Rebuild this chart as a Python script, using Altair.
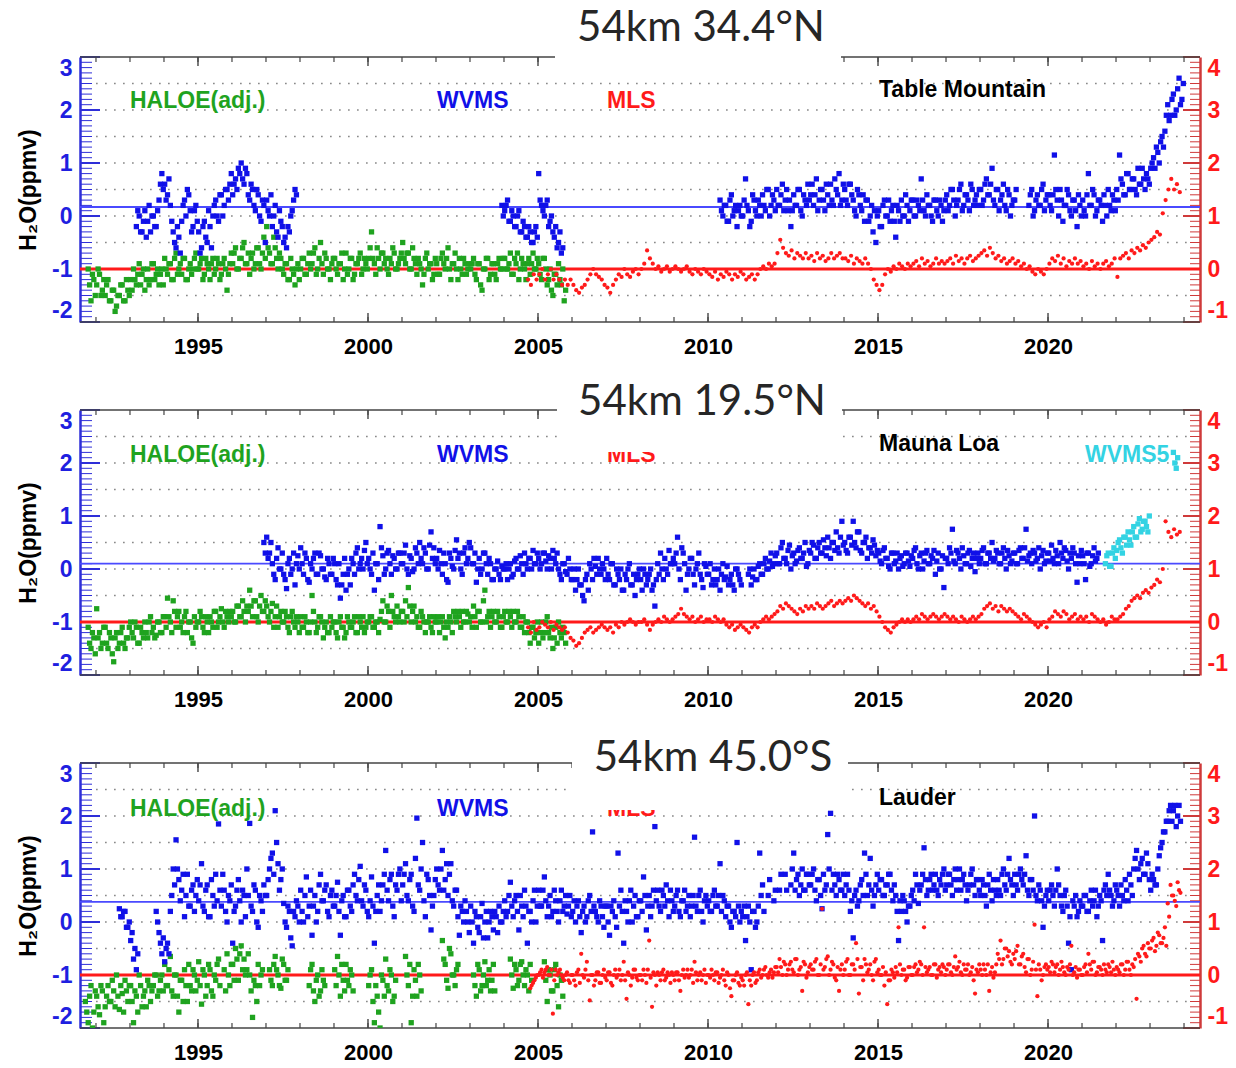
import altair as alt
import pandas as pd


def ym(year, month):
    return year + (month - 1) / 12


# ---------------------------------------------------------------------------
# Anomaly series (ppmv), two readings per month where the record is dense.
# HALOE / WVMS use the left scale, MLS the right scale (MLS 0 = left -1).
# None = no data that month.
# ---------------------------------------------------------------------------

# ---- Table Mountain, 34.4N ----
HALOE_TM_START = ym(1991, 10)
HALOE_TM = [
    -1.0, -1.6, -1.2,
    -1.3, -1.1, -1.4, -1.5, -1.2, -1.6, -1.4, -1.7, -1.5, -1.3, -1.6, -1.4,
    -1.2, -1.0, -1.3, -0.9, -1.1, -1.4, -1.0, -1.2, -0.9, -1.1, -1.3, -1.0,
    -0.8, -1.1, -0.9, -1.2, -0.7, -1.0, -1.1, -0.8, -1.2, -0.9, -1.0, -0.7,
    -1.0, -0.8, -1.1, -0.9, -1.2, -0.8, -1.0, -0.9, -1.1, -0.8, -1.4, -0.9,
    -0.9, -0.6, -1.0, -0.8, -0.5, -0.9, -1.1, -0.7, -0.9, -0.6, -1.0, -0.4,
    -0.2, -0.7, -0.9, -0.6, -1.0, -0.8, -1.1, -0.9, -1.2, -1.0, -1.3, -0.9,
    -1.0, -0.8, -1.1, -0.7, -0.9, -0.6, -1.0, -0.5, -1.1, -0.8, -1.0, -0.9,
    -0.8, -1.1, -0.9, -1.2, -0.7, -1.0, -0.8, -1.1, -0.9, -0.7, -1.0, -0.9,
    -0.8, -0.3, -0.9, -0.6, -1.0, -0.7, -0.8, -1.1, -0.9, -0.7, -1.0, -0.8,
    -0.5, -0.9, -0.7, -1.0, -0.8, -1.1, -0.9, -1.3, -0.8, -1.0, -0.9, -1.1,
    -0.9, -1.1, -0.7, -1.0, -0.6, -1.2, -0.9, -1.0, -0.8, -1.1, -0.9, -1.0,
    -1.0, -0.8, -1.2, -0.9, -1.4, -1.0, -0.8, -1.1, -0.9, -1.2, -0.8, -1.0,
    -0.8, -1.0, -0.7, -1.1, -0.9, -1.2, -0.8, -1.0, -0.9, -1.1, -0.7, -1.0,
    -0.9, -1.2, -0.8, -1.3, -1.0, -1.5, -1.1, -0.9, -1.3, -1.6,
]
HALOE_TM_2 = [
    -1.3, -1.1, -1.5,
    -1.0, -1.5, -1.2, -1.3, -1.6, -1.4, -1.8, -1.5, -1.3, -1.6, -1.2, -1.5,
    -1.4, -1.2, -1.1, -1.3, -1.0, -1.2, -1.3, -0.9, -1.2, -1.0, -1.1, -1.3,
    -1.0, -0.9, -1.2, -0.8, -1.1, -0.9, -0.8, -1.2, -1.0, -1.1, -0.8, -1.0,
    -0.9, -1.2, -0.8, -1.0, -0.9, -1.1, -0.8, -1.2, -0.9, -1.0, -1.1, -0.7,
    -0.7, -1.0, -0.8, -0.6, -0.9, -0.7, -0.8, -1.0, -0.6, -0.9, -0.7, -0.8,
    -0.6, -0.9, -0.4, -0.8, -0.7, -1.0, -0.9, -1.2, -0.8, -1.1, -1.0, -1.2,
    -0.8, -1.1, -0.9, -1.0, -0.7, -1.1, -0.8, -0.9, -0.7, -1.0, -1.2, -0.8,
    -1.0, -0.9, -0.7, -1.0, -1.1, -0.8, -1.2, -0.9, -0.8, -1.1, -0.8, -1.0,
    -0.6, -0.8, -1.1, -0.8, -0.7, -0.9, -1.0, -0.8, -0.6, -1.0, -0.9, -0.7,
    -0.8, -0.7, -1.0, -0.6, -0.9, -0.8, -1.0, -1.1, -0.7, -0.9, -1.2, -0.8,
    -1.1, -0.8, -0.9, -0.8, -1.0, -0.9, -0.7, -1.2, -1.0, -0.8, -1.1, -0.9,
    -0.9, -1.1, -0.9, -1.3, -1.0, -0.8, -1.2, -0.9, -1.1, -0.9, -1.0, -0.8,
    -1.0, -0.9, -1.1, -0.8, -0.7, -1.0, -0.9, -1.2, -0.8, -0.9, -1.0, -0.8,
    -1.1, -0.8, -1.0, -1.2, -1.4, -1.1, -1.3, -1.2, -1.0, -1.4,
]
WVMS_TM_A_START = ym(1993, 3)
WVMS_TM_A = [
    -0.2, 0.0, -0.3, 0.1, -0.1, -0.3, 0.0, -0.2, 0.3, 0.8,
    0.6, 0.4, 0.2, -0.3, -0.6, -0.4, -0.1, 0.3, 0.5, 0.1, -0.2, 0.2,
    -0.3, -0.6, -0.1, -0.5, -0.2, 0.0, 0.3, -0.1, 0.4, 0.2, 0.5, 0.6,
    0.4, 0.7, 0.9, 1.0, 0.6, 0.8, 0.3, 0.5, 0.1, 0.4, -0.1, 0.2,
    0.3, 0.0, -0.2, 0.2, -0.4, -0.1, -0.5, -0.6, -0.3, 0.1, 0.5,
]
WVMS_TM_A_2 = [
    0.1, -0.3, -0.1, -0.4, 0.2, 0.0, -0.2, 0.1, 0.6, 0.5,
    0.3, 0.7, -0.1, -0.5, -0.2, -0.7, 0.2, 0.0, 0.4, -0.3, 0.1, -0.1,
    -0.7, -0.2, -0.4, 0.1, -0.6, 0.2, 0.0, 0.4, 0.0, 0.5, 0.3, 0.8,
    0.6, 0.5, 0.8, 0.7, 0.9, 0.4, 0.6, 0.2, 0.5, 0.0, 0.3, -0.5,
    0.1, 0.4, 0.0, -0.3, 0.1, -0.2, -0.4, -0.2, 0.0, 0.3, 0.4,
]
WVMS_TM_B_START = ym(2003, 12)
WVMS_TM_B = [
    0.2,
    0.1, 0.3, -0.1, 0.0, -0.2, 0.1, -0.3, -0.2, -0.4, -0.3, -0.5, -0.2,
    0.8, 0.2, 0.0, 0.3, -0.1, -0.3, -0.2, -0.5, -0.7,
]
WVMS_TM_B_2 = [
    0.0,
    0.2, -0.1, 0.1, -0.2, 0.0, -0.3, -0.1, -0.4, -0.2, -0.5, -0.3, -0.4,
    0.3, 0.1, 0.2, -0.2, 0.0, -0.4, -0.6, -0.3, -0.6,
]
WVMS_TM_C_START = ym(2010, 5)
WVMS_TM_C = [
    0.3, 0.0, 0.2, -0.1, 0.4, 0.1, -0.2, 0.2,
    0.0, 0.7, 0.1, -0.1, 0.3, 0.0, 0.2, 0.4, 0.1, 0.5, 0.2, 0.3,
    0.5, 0.2, 0.6, 0.3, 0.1, -0.2, 0.4, 0.2, 0.5, 0.0, 0.3, 0.6,
    0.4, 0.2, 0.7, 0.3, 0.5, 0.1, 0.4, 0.6, 0.2, 0.5, 0.8, 0.3,
    0.5, 0.2, 0.6, 0.3, 0.0, 0.4, 0.1, -0.1, 0.3, 0.0, -0.3, -0.5,
    0.1, -0.2, 0.3, 0.0, -0.1, 0.2, -0.4, 0.1, 0.3, 0.0, 0.2, 0.1,
    0.3, 0.0, 0.2, 0.7, 0.1, 0.4, 0.2, -0.1, 0.3, 0.0, 0.2, 0.1,
    0.4, 0.2, 0.5, 0.0, 0.3, 0.6, 0.2, 0.4, 0.1, 0.5, 0.3, 0.2,
    0.5, 0.3, 0.7, 0.4, 0.9, 0.2, 0.5, 0.3, 0.6, 0.1, 0.4, 0.2,
    0.3, None, None, None, None, 0.2, 0.5, 0.1, 0.4, 0.2, 0.6, 0.3,
    0.4, 0.1, 1.15, 0.3, 0.5, -0.1, 0.2, 0.4, 0.0, 0.3, -0.2, 0.2,
    0.3, 0.0, 0.8, 0.2, 0.4, 0.1, 0.3, -0.1, 0.2, 0.5, 0.1, 0.3,
    0.5, 1.15, 0.6, 0.4, 0.8, 0.5, 0.7, 0.4, 0.6, 0.9, 0.5, 0.7,
    0.9, 1.1, 1.3, 1.0, 1.5, 1.6, 2.1, 1.9, 2.3, 2.0, 2.6, 2.2,
]
WVMS_TM_C_2 = [
    0.1, 0.2, -0.1, 0.3, 0.0, 0.2, 0.1, 0.0,
    0.3, 0.2, -0.2, 0.4, 0.1, 0.3, 0.0, 0.2, 0.5, 0.0, 0.4, 0.1,
    0.2, 0.4, 0.1, 0.5, 0.3, 0.1, 0.2, 0.5, 0.1, 0.4, 0.2, 0.3,
    0.6, 0.4, 0.1, 0.5, 0.3, 0.6, 0.2, 0.3, 0.7, 0.4, 0.2, 0.6,
    0.3, 0.6, 0.4, 0.1, 0.5, 0.2, 0.4, 0.3, -0.1, 0.2, 0.1, 0.0,
    -0.2, 0.2, 0.0, 0.3, 0.1, -0.1, 0.2, -0.1, 0.0, 0.4, -0.1, 0.3,
    0.0, 0.3, 0.1, 0.3, 0.0, 0.2, 0.0, 0.3, 0.1, 0.3, -0.1, 0.3,
    0.1, 0.5, 0.3, 0.2, 0.5, 0.1, 0.4, 0.3, 0.6, 0.2, 0.4, 0.5,
    0.2, 0.6, 0.4, 0.6, 0.3, 0.5, 0.1, 0.4, 0.2, 0.5, 0.0, 0.3,
    0.5, None, None, None, None, 0.4, 0.0, 0.3, 0.2, 0.5, 0.1, 0.4,
    0.2, 0.4, 0.5, 0.0, 0.3, 0.2, 0.5, 0.1, 0.3, 0.1, 0.4, 0.0,
    0.1, 0.4, 0.2, 0.5, 0.0, 0.3, 0.2, 0.4, 0.0, 0.2, 0.4, 0.1,
    0.3, 0.7, 0.4, 0.8, 0.5, 0.7, 0.5, 0.9, 0.6, 0.7, 0.8, 0.6,
    1.0, 0.9, 1.2, 1.4, 1.3, 1.9, 1.8, 2.2, 1.9, 2.4, 2.1, 2.5,
]
MLS_TM_START = ym(2004, 9)
MLS_TM = [
    -0.2, -0.3, -0.1, -0.2,
    -0.1, 0.0, -0.2, -0.1, 0.0, -0.2, -0.1, -0.2, -0.3, -0.2, -0.3, -0.2,
    -0.3, -0.4, -0.45, -0.35, -0.3, -0.2, -0.1, 0.0, -0.1, -0.15, -0.2, -0.3,
    -0.35, -0.45, -0.3, -0.2, -0.1, -0.15, 0.0, -0.1, -0.15, -0.05, 0.0, -0.1,
    0.0, 0.1, 0.35, 0.2, 0.1, 0.0, 0.05, -0.05, 0.0, 0.05, -0.05, 0.0,
    0.05, 0.0, -0.05, 0.0, 0.05, -0.05, -0.1, 0.0, -0.05, -0.1, 0.0, -0.05,
    -0.1, -0.15, -0.05, -0.2, -0.1, -0.15, -0.05, -0.1, -0.2, -0.1, -0.15, -0.05,
    -0.1, -0.2, -0.15, -0.1, -0.2, -0.1, 0.0, 0.05, 0.0, 0.1, 0.05, 0.1,
    0.3, 0.55, 0.4, 0.3, 0.25, 0.35, 0.2, 0.3, 0.25, 0.2, 0.3, 0.2,
    0.25, 0.15, 0.3, 0.2, 0.25, 0.15, 0.2, 0.3, 0.2, 0.25, 0.3, 0.2,
    0.2, 0.15, 0.25, 0.1, 0.2, 0.15, 0.1, 0.2, 0.1, 0.0, -0.2, -0.3,
    -0.4, -0.3, -0.1, 0.0, -0.05, 0.05, 0.0, 0.1, 0.05, 0.0, 0.1, 0.05,
    0.1, 0.15, 0.05, 0.2, 0.1, 0.15, 0.05, 0.1, 0.2, 0.1, 0.15, 0.1,
    0.15, 0.2, 0.1, 0.25, 0.15, 0.2, 0.1, 0.2, 0.25, 0.15, 0.2, 0.25,
    0.3, 0.35, 0.25, 0.4, 0.3, 0.2, 0.25, 0.15, 0.2, 0.1, 0.15, 0.2,
    0.1, 0.15, 0.05, 0.1, 0.0, 0.05, -0.05, -0.1, 0.0, -0.05, -0.1, 0.0,
    0.1, 0.2, 0.15, 0.25, 0.1, 0.2, 0.05, 0.15, 0.1, 0.2, 0.1, 0.15,
    0.05, 0.1, 0.0, 0.15, 0.05, 0.1, 0.0, 0.1, 0.15, 0.05, 0.1, 0.2,
    -0.15, 0.2, 0.25, 0.3, 0.2, 0.35, 0.3, 0.4, 0.35, 0.45, 0.4, 0.5,
    0.55, 0.6, 0.7, 0.65, 1.05, 1.3, 1.5, 1.7, 1.5, 1.6, 1.45,
]
WVMS_MEAN_TM = 0.17

# ---- Mauna Loa, 19.5N ----
HALOE_ML_START = ym(1991, 10)
HALOE_ML = [
    -1.1, -1.5, -1.3,
    -0.75, -1.2, -1.4, -1.1, -1.5, -1.3, -1.75, -1.2, -1.4, -1.1, -1.5, -1.3,
    -1.0, -1.3, -1.1, -1.4, -1.2, -1.0, -1.3, -0.9, -1.1, -1.25, -1.0, -1.2,
    -0.9, -0.55, -1.0, -0.6, -1.1, -0.8, -1.0, -0.9, -1.2, -1.0, -1.4, -1.1,
    -1.0, -0.9, -1.2, -1.0, -0.9, -1.1, -0.8, -1.0, -0.75, -1.1, -0.9, -0.8,
    -0.8, -1.0, -0.7, -0.9, -0.8, -0.7, -0.4, -0.9, -0.6, -1.0, -0.5, -0.8,
    -0.7, -1.0, -0.65, -0.9, -1.1, -0.8, -1.0, -0.9, -1.2, -0.8, -1.1, -1.0,
    -0.9, -1.1, -1.0, -1.2, -0.5, -1.0, -1.1, -0.9, -1.3, -1.0, -1.2, -1.1,
    -1.0, -1.3, -0.9, -1.1, -1.2, -1.0, -1.1, -0.9, -1.2, -1.0, -0.9, -1.1,
    -1.0, -0.9, -1.1, -1.0, -0.95, -0.6, -1.0, -0.8, -0.5, -0.9, -0.7, -1.0,
    -0.8, -0.6, -0.35, -1.0, -0.7, -0.9, -1.1, -0.9, -1.2, -1.0, -1.1, -0.9,
    -1.0, -1.2, -0.9, -1.3, -1.1, -1.0, -0.8, -1.0, -0.9, -0.8, -1.0, -0.85,
    -0.9, -0.7, -1.1, -0.8, -1.0, -0.4, -0.9, -1.1, -0.8, -1.0, -0.9, -1.1,
    -0.8, -1.0, -0.9, -0.8, -1.0, -0.9, -1.1, -1.2, -1.0, -1.4, -1.1, -1.2,
    -1.4, -1.0, -1.2, -0.9, -1.3, -1.5, -1.1, -1.0, -1.3, -1.2,
]
HALOE_ML_2 = [
    -1.4, -1.2, -1.6,
    -1.3, -1.5, -1.1, -1.4, -1.2, -1.6, -1.3, -1.5, -1.2, -1.4, -1.3, -1.1,
    -1.2, -1.0, -1.4, -1.1, -1.3, -1.2, -1.0, -1.2, -1.3, -1.0, -1.2, -0.9,
    -1.1, -0.9, -1.2, -0.8, -0.9, -1.1, -1.2, -0.8, -1.0, -1.3, -0.9, -1.0,
    -0.8, -1.1, -0.9, -1.2, -1.0, -0.8, -1.1, -0.9, -1.0, -0.8, -1.0, -0.9,
    -1.0, -0.7, -0.9, -0.6, -1.0, -0.8, -0.7, -0.6, -0.9, -0.7, -0.8, -0.6,
    -0.9, -0.8, -1.1, -0.7, -0.9, -1.0, -0.8, -1.1, -0.9, -1.0, -0.9, -1.2,
    -1.1, -0.9, -1.2, -1.0, -0.8, -1.2, -0.9, -1.0, -1.1, -1.2, -0.9, -1.0,
    -1.2, -1.0, -1.1, -1.3, -0.9, -1.1, -1.0, -1.2, -0.9, -1.1, -1.2, -1.0,
    -0.9, -1.1, -1.0, -1.2, -0.8, -1.0, -0.7, -1.1, -0.8, -1.0, -0.9, -0.8,
    -1.0, -0.9, -0.7, -0.8, -1.0, -1.1, -0.8, -1.0, -1.0, -0.9, -1.2, -1.0,
    -0.9, -1.0, -1.1, -1.0, -0.9, -1.2, -0.9, -0.8, -1.1, -1.0, -0.8, -1.0,
    -1.1, -0.9, -0.8, -1.0, -0.6, -1.0, -0.8, -0.9, -1.0, -0.8, -1.1, -0.9,
    -1.0, -0.8, -1.1, -1.0, -0.8, -1.1, -0.9, -1.0, -1.2, -1.1, -1.3, -1.0,
    -1.2, -1.3, -1.0, -1.2, -1.1, -1.3, -1.4, -1.2, -1.1, -1.4,
]
WVMS_ML_START = ym(1996, 12)
WVMS_ML = [
    0.5,
    0.6, 0.3, 0.1, -0.2, 0.4, 0.0, -0.1, -0.37, 0.2, 0.0, -0.3, 0.25,
    0.4, -0.1, 0.2, -0.25, 0.0, 0.3, -0.1, 0.25, 0.0, -0.2, 0.1, -0.1,
    0.1, -0.3, -0.55, -0.1, -0.4, 0.0, 0.2, -0.1, 0.4, 0.1, 0.0, 0.5,
    0.2, -0.1, -0.4, 0.1, 0.8, 0.25, 0.0, 0.35, -0.1, 0.2, 0.0, 0.3,
    0.1, 0.45, -0.1, 0.2, 0.0, 0.3, 0.5, 0.1, 0.3, 0.0, 0.7, 0.4,
    0.2, 0.35, -0.1, 0.1, -0.25, 0.2, 0.0, 0.55, 0.3, -0.1, 0.4, 0.2,
    0.4, 0.1, -0.25, 0.2, 0.0, 0.3, -0.1, 0.1, -0.2, 0.0, -0.1, 0.05,
    0.0, -0.2, 0.1, -0.1, 0.2, 0.0, 0.1, 0.3, 0.0, 0.2, 0.35, 0.1,
    0.2, 0.1, 0.3, 0.0, 0.2, 0.35, 0.1, 0.0, -0.2, 0.1, -0.1, 0.0,
    -0.2, -0.4, 0.0, -0.3, -0.6, -0.1, 0.1, -0.2, 0.05, 0.2, -0.1, 0.0,
    0.2, -0.2, 0.1, -0.3, -0.1, 0.0, -0.4, -0.2, 0.1, -0.3, -0.5, -0.1,
    -0.2, 0.0, -0.3, -0.1, -0.4, -0.7, 0.1, 0.3, -0.2, 0.0, 0.35, 0.1,
    0.1, 0.6, -0.2, 0.3, -0.4, 0.0, 0.2, -0.3, 0.1, -0.1, -0.35, 0.05,
    -0.1, -0.3, 0.0, -0.2, -0.4, 0.1, -0.15, -0.3, -0.1, -0.4, 0.0, -0.2,
    None, None, -0.1, -0.3, 0.0, -0.2, 0.1, -0.1, 0.2, 0.0, 0.3, 0.1,
    0.3, 0.1, 0.5, 0.2, 0.35, 0.0, 0.3, 0.15, 0.4, 0.2, 0.5, 0.1,
    0.3, 0.45, 0.2, 0.5, 0.3, 0.4, 0.6, 0.2, 0.5, 0.7, 0.3, 0.9,
    0.5, 0.3, 0.6, 0.9, 0.4, 0.7, 0.3, 0.5, 0.2, 0.4, 0.55, 0.25,
    0.3, 0.1, 0.4, 0.2, 0.0, 0.3, 0.15, 0.0, 0.25, 0.1, 0.3, 0.05,
    0.2, 0.4, 0.0, 0.3, 0.15, 0.35, 0.1, 0.2, -0.1, 0.3, 0.0, -0.35,
    0.2, 0.4, 0.75, 0.1, 0.3, 0.0, 0.25, 0.1, 0.35, 0.2, -0.05, 0.3,
    0.2, 0.4, 0.1, 0.3, 0.5, 0.2, 0.3, 0.1, 0.4, 0.0, 0.25, 0.15,
    0.3, 0.1, 0.4, 0.2, 0.75, 0.25, 0.1, 0.3, 0.2, 0.0, 0.35, 0.15,
    0.3, 0.45, 0.1, 0.25, 0.5, 0.2, 0.35, 0.0, 0.2, 0.3, -0.25, 0.1,
    0.25, -0.2, 0.3, 0.1, 0.4, 0.2,
]
WVMS_ML_2 = [
    0.3,
    0.2, 0.5, -0.1, 0.2, 0.0, 0.3, -0.2, 0.1, -0.1, 0.3, 0.1, 0.0,
    0.1, 0.3, -0.2, 0.1, 0.2, -0.1, 0.3, 0.0, -0.15, 0.2, -0.1, 0.2,
    -0.2, 0.1, -0.3, 0.2, -0.1, -0.3, 0.1, 0.3, 0.0, 0.2, 0.35, 0.1,
    0.0, 0.3, 0.1, -0.2, 0.4, -0.1, 0.3, 0.1, 0.25, 0.0, 0.3, 0.1,
    0.3, 0.0, 0.25, -0.05, 0.4, 0.1, 0.2, 0.4, 0.0, 0.45, 0.2, 0.1,
    0.0, 0.1, 0.3, -0.2, 0.3, 0.05, 0.35, 0.2, 0.0, 0.3, 0.1, 0.5,
    0.1, 0.3, 0.0, -0.1, 0.3, 0.1, 0.2, -0.2, 0.0, 0.15, -0.2, 0.0,
    0.1, 0.0, -0.15, 0.15, 0.0, 0.25, -0.1, 0.1, 0.2, 0.0, 0.1, 0.3,
    0.0, 0.3, 0.15, 0.25, 0.0, 0.2, 0.3, -0.1, 0.1, -0.05, 0.2, -0.2,
    0.0, -0.2, -0.3, -0.5, -0.2, -0.4, 0.0, 0.2, -0.1, 0.0, 0.1, -0.2,
    -0.1, 0.1, -0.3, 0.0, -0.2, -0.4, -0.1, 0.0, -0.3, -0.1, -0.2, 0.0,
    -0.4, -0.1, -0.2, 0.0, -0.3, -0.2, -0.1, 0.0, 0.2, -0.1, 0.1, 0.2,
    0.3, 0.0, 0.4, 0.1, -0.1, 0.2, -0.1, 0.0, 0.3, -0.2, 0.1, -0.1,
    0.1, -0.2, -0.3, 0.0, -0.1, -0.2, 0.05, -0.2, -0.3, 0.0, -0.1, -0.3,
    None, None, 0.0, -0.15, -0.2, 0.05, -0.1, 0.1, 0.0, 0.15, 0.05, 0.25,
    0.1, 0.4, 0.2, 0.1, 0.45, 0.25, 0.1, 0.35, 0.2, 0.3, 0.05, 0.35,
    0.5, 0.2, 0.4, 0.3, 0.55, 0.25, 0.4, 0.5, 0.35, 0.4, 0.6, 0.45,
    0.35, 0.6, 0.45, 0.5, 0.7, 0.35, 0.5, 0.6, 0.4, 0.3, 0.45, 0.35,
    0.15, 0.35, 0.2, 0.05, 0.3, 0.1, 0.3, 0.2, 0.05, 0.3, 0.15, 0.25,
    0.35, 0.1, 0.25, 0.0, 0.3, 0.1, 0.25, 0.35, 0.15, 0.0, 0.25, 0.2,
    0.1, 0.3, 0.15, 0.35, 0.2, 0.4, 0.1, 0.3, 0.05, 0.3, 0.2, 0.1,
    0.35, 0.1, 0.3, 0.2, 0.15, 0.35, 0.1, 0.3, 0.2, 0.35, 0.1, 0.3,
    0.1, 0.35, 0.2, 0.4, 0.15, 0.3, 0.35, 0.15, 0.4, 0.25, 0.1, 0.3,
    0.15, 0.2, 0.35, 0.1, 0.3, 0.4, 0.15, 0.3, 0.4, 0.1, 0.25, 0.35,
    0.1, 0.3, 0.05, 0.25, 0.15, 0.3,
]
WVMS5_ML_A_START = ym(2021, 9)
WVMS5_ML_A = [
    0.1, 0.3, 0.05, 0.4,
    0.35, 0.55, 0.3, 0.6, 0.7, 0.45, 0.8, 0.6, 0.95, 0.75, 0.9, 0.7,
]
WVMS5_ML_A_2 = [
    0.25, 0.05, 0.3, 0.2,
    0.5, 0.4, 0.6, 0.45, 0.55, 0.7, 0.6, 0.85, 0.7, 0.9, 0.8, 1.0,
]
WVMS5_ML_B_START = ym(2023, 9)
WVMS5_ML_B = [2.2, 1.9]
WVMS5_ML_B_2 = [2.0, 2.1]
MLS_ML_START = ym(2004, 9)
MLS_ML = [
    -0.1, -0.2, 0.0, -0.15,
    -0.1, 0.0, -0.05, -0.1, 0.0, -0.15, -0.05, -0.1, -0.15, -0.1, -0.2, -0.3,
    -0.35, -0.45, -0.4, -0.3, -0.2, -0.15, -0.1, -0.2, -0.15, -0.1, -0.05, -0.1,
    -0.15, -0.1, -0.2, -0.05, -0.1, 0.0, -0.05, 0.0, 0.05, 0.0, -0.05, 0.0,
    0.0, 0.05, -0.05, -0.15, -0.05, 0.0, 0.05, 0.0, 0.1, 0.05, 0.0, 0.05,
    0.1, 0.15, 0.25, 0.15, 0.1, 0.05, 0.1, 0.0, 0.05, 0.1, 0.0, 0.05,
    0.05, 0.0, 0.1, 0.05, 0.0, 0.05, -0.05, -0.1, -0.05, -0.15, -0.1, -0.05,
    -0.1, -0.15, -0.2, -0.1, -0.05, -0.1, 0.0, 0.05, 0.1, 0.05, 0.1, 0.15,
    0.2, 0.3, 0.25, 0.35, 0.3, 0.25, 0.2, 0.15, 0.25, 0.2, 0.3, 0.25,
    0.3, 0.25, 0.35, 0.3, 0.25, 0.3, 0.35, 0.4, 0.3, 0.35, 0.4, 0.35,
    0.4, 0.45, 0.4, 0.5, 0.45, 0.4, 0.35, 0.3, 0.35, 0.25, 0.3, 0.2,
    0.1, 0.0, -0.1, -0.15, -0.2, -0.1, -0.05, 0.0, 0.05, 0.0, 0.05, 0.0,
    0.05, 0.1, 0.05, 0.15, 0.1, 0.05, 0.1, 0.15, 0.1, 0.05, 0.1, 0.15,
    0.1, 0.05, 0.1, 0.05, 0.0, 0.1, 0.05, 0.0, 0.05, 0.1, 0.05, 0.1,
    0.15, 0.25, 0.3, 0.35, 0.25, 0.3, 0.2, 0.3, 0.25, 0.2, 0.25, 0.2,
    0.15, 0.1, 0.05, 0.15, 0.1, 0.05, 0.0, -0.05, -0.1, -0.05, 0.0, -0.1,
    0.05, 0.1, 0.2, 0.15, 0.1, 0.2, 0.15, 0.05, 0.1, 0.15, 0.05, 0.1,
    0.05, 0.1, 0.0, 0.15, 0.1, 0.05, 0.0, 0.05, -0.05, 0.0, 0.1, 0.05,
    0.05, 0.1, 0.15, 0.25, 0.3, 0.4, 0.45, 0.5, 0.45, 0.55, 0.6, 0.55,
    0.65, 0.7, 0.8, 0.75, 1.0, 1.9, 1.7, 1.6, 1.75, 1.65, 1.7,
]
WVMS_MEAN_ML = 0.1

# ---- Lauder, 45.0S ----
HALOE_LA_START = ym(1991, 9)
HALOE_LA = [
    -1.5, -1.9, -1.2, -1.7,
    -1.4, -1.75, -1.3, -1.6, -1.2, -1.5, -1.3, -1.0, -1.65, -1.35, -1.1, -1.5,
    -1.2, -1.9, -1.4, -1.0, -1.6, -1.3, -1.1, -1.5, -1.2, -1.0, -1.3, -1.0,
    -0.8, -1.2, -0.65, -1.4, -1.0, -1.7, -1.1, -0.9, -1.5, -1.2, -0.9, -1.3,
    -0.75, -1.55, -1.0, -1.2, -0.9, -1.4, -1.1, -0.7, None, -0.9, -0.6, -1.2,
    -0.8, -0.5, -1.1, -0.45, -0.7, -0.9, -1.0, -1.8, -1.2, -0.8, -1.0, None,
    None, -0.9, -1.2, -0.65, -1.0, -1.25, -0.8, -1.1, None, None, None, None,
    None, None, None, -1.2, -0.8, -1.5, -1.0, -1.3, -1.1, None, None, None,
    -0.9, -0.65, -1.4, -1.1, -0.8, -1.2, -1.0, None, None, None, None, None,
    -1.2, -0.9, -1.9, -1.4, -2.0, -1.1, -0.7, -1.3, -1.0, -1.4, None, None,
    None, -0.65, -1.2, -1.9, -0.9, -1.4, -1.0, None, None, None, None, None,
    None, None, -0.35, -0.8, -1.25, -0.6, -1.0, -0.9, None, None, None, None,
    None, -1.0, -1.4, -0.9, -1.2, -0.75, -1.1, -1.3, -0.8, None, None, None,
    None, None, -0.7, -1.25, -0.9, -1.1, -0.75, -1.2, -1.0, -0.8, None, None,
    None, None, -0.75, -1.5, -1.0, -1.3, -0.8, -1.6, -1.1,
]
HALOE_LA_2 = [
    -1.7, -1.4, -2.0, -1.3,
    -1.6, -1.2, -1.9, -1.4, -1.5, -1.1, -1.6, -1.4, -1.2, -1.7, -1.3, -1.2,
    -1.5, -1.3, -1.7, -1.2, -1.4, -1.6, -1.2, -1.3, -1.0, -1.4, -1.1, -1.3,
    -1.2, -0.9, -1.3, -1.0, -1.4, -1.1, -1.5, -1.2, -0.8, -1.3, -1.0, -1.1,
    -1.2, -0.9, -1.4, -0.8, -1.3, -1.0, -0.8, -1.2, None, -1.3, -1.0, -0.8,
    -1.1, -0.7, -0.6, -0.9, -1.0, -0.6, -1.3, -1.1, -1.5, -1.2, -0.9, None,
    None, -1.1, -0.8, -0.9, -1.2, -0.7, -1.1, -0.9, None, None, None, None,
    None, None, None, -0.9, -1.3, -1.1, -1.4, -0.9, -1.2, None, None, None,
    -1.2, -1.0, -0.8, -1.3, -1.1, -0.9, -1.3, None, None, None, None, None,
    -1.0, -1.5, -1.2, -1.7, -1.0, -1.4, -1.2, -0.9, -1.5, -1.1, None, None,
    None, -1.0, -0.8, -1.4, -1.1, -0.8, -1.3, None, None, None, None, None,
    None, None, -0.7, -1.1, -0.5, -1.0, -1.2, -0.8, None, None, None, None,
    None, -1.2, -0.8, -1.3, -1.0, -1.2, -0.9, -1.1, -1.3, None, None, None,
    None, None, -1.0, -0.8, -1.2, -0.8, -1.0, -0.9, -1.3, -1.1, None, None,
    None, None, -1.1, -0.9, -1.3, -0.9, -1.2, -1.0, -1.4,
]
WVMS_LA_START = ym(1992, 9)
WVMS_LA = [
    0.25, 0.1, 0.2, -0.1,
    -0.35, -0.7, -0.9, None, None, None, None, None, None, 0.2, -0.2, -0.6,
    -0.75, -0.4, 0.2, 1.0, 1.55, 0.8, 0.6, 0.1, 0.9, 0.3, 0.7, 0.5,
    0.4, 1.1, 0.2, 0.7, 0.1, 0.5, 0.9, 1.85, 0.3, 0.6, 0.0, 0.4,
    -0.4, 0.3, 0.8, 0.0, 0.5, 1.0, 1.86, 0.2, 0.6, -0.1, 0.4, 0.7,
    0.5, 1.0, 1.3, 2.1, 1.1, 0.8, 0.35, -0.1, 0.2, -0.45, 0.1, 0.3,
    0.6, 0.0, 0.85, 0.3, -0.25, 0.5, 0.2, 0.9, 0.4, 0.7, 0.1, 0.6,
    0.3, 0.75, -0.25, 0.5, 0.1, 0.6, 0.2, 0.9, 0.4, 1.05, 0.3, 0.6,
    0.1, 0.85, -0.4, 0.5, 0.2, 0.7, 1.35, 0.4, 0.9, 0.1, 0.6, 1.0,
    0.7, 1.1, 0.4, 0.9, 0.2, 1.96, 0.6, 1.5, 0.1, 0.8, -0.15, 0.5,
    1.0, 0.6, 1.35, 0.8, 0.5, 1.1, 0.3, 0.6, -0.25, 0.2, 0.4, 0.0,
    0.3, -0.4, 0.1, -0.2, 0.35, 0.0, -0.3, 0.2, -0.15, 0.1, 0.3, 0.0,
    0.4, 0.2, 0.75, 0.1, 0.5, -0.15, 0.3, 0.6, -0.4, 0.2, 0.4, 0.0,
    0.6, 0.3, 0.85, 0.1, 0.5, 0.2, 0.4, 0.0, 0.6, 0.3, 0.15, 0.5,
    0.2, 0.0, 0.4, -0.2, 0.3, 0.1, 0.5, 1.7, 0.2, 0.0, 0.3, -0.1,
    0.3, -0.25, 0.2, 0.1, 1.3, 0.6, -0.4, 0.2, 0.4, 0.0, 0.5, 0.1,
    0.4, 0.85, -0.15, 0.5, 0.3, 1.8, 0.6, 0.2, 0.5, 0.7, 0.1, 0.4,
    0.3, 0.6, 0.1, 0.4, 0.2, 0.5, 0.3, 1.6, 0.2, 0.6, 0.0, 0.5,
    0.4, 0.2, 0.6, 0.3, 1.1, 0.5, 0.1, 0.3, -0.1, 0.2, 1.5, 0.0,
    0.1, -0.35, 0.3, -0.9, 0.2, 0.0, 1.3, 0.7, None, 0.5, None, 0.4,
    None, 0.6, None, 0.9, None, 0.7, 1.3, 0.8, 0.5, 1.0, 0.6, 0.9,
    0.7, 1.0, 0.4, 0.8, 0.25, 0.6, 1.65, 2.05, 0.9, 0.5, 0.8, 0.6,
    0.5, 0.9, 0.2, -0.3, 0.6, 0.4, 0.8, 1.3, 0.5, 1.2, 0.3, 0.7,
    0.6, 0.8, 0.5, 0.7, 0.9, 0.4, 0.5, -0.35, 0.2, 0.4, 0.0, 0.3,
    0.6, 0.9, 0.35, 0.7, 1.4, 0.5, 0.8, 0.6, 0.9, 0.5, 0.7, 1.0,
    0.7, 0.9, 0.5, 1.0, 0.8, 0.6, 0.9, 0.4, 0.7, 1.0, 0.5, 0.8,
    0.5, 0.7, 0.3, 0.9, 0.4, 0.6, 0.8, 0.5, 1.0, 0.6, 1.2, 0.7,
    0.9, 0.6, 1.0, 0.7, 1.25, 0.5, 0.8, 2.0, 0.4, 0.6, -0.1, 0.5,
    0.4, 0.7, 0.3, 1.0, 0.5, 0.2, 0.6, -0.4, -0.9, 0.3, 0.1, 0.4,
    0.3, 0.5, 0.2, 0.6, 0.4, 0.1, 0.5, -0.35, 0.7, 0.9, 0.5, 0.4,
    0.6, 0.3, 0.5, 0.8, 0.4, 0.7, 1.0, 1.35, 0.8, 1.2, 0.9, 1.1,
    0.6, 0.8, 0.7, 1.25, 1.5, 1.7, 1.9, 2.2, 2.1, 1.8, 2.2,
]
WVMS_LA_2 = [
    0.1, 0.2, -0.1, 0.0,
    -0.2, -0.5, -0.6, None, None, None, None, None, None, 0.0, -0.4, -0.3,
    -0.5, -0.6, 0.5, 0.7, 1.0, 0.4, 0.9, 0.5, 0.3, 0.6, 0.2, 0.8,
    0.7, 0.3, 0.6, 0.1, 0.8, 0.3, 0.4, 0.6, 0.9, 0.2, 0.5, 0.7,
    0.2, 0.6, 0.4, 0.6, 0.1, 0.5, 0.3, 0.7, 0.0, 0.5, 0.2, 0.5,
    0.8, 1.2, 0.9, 1.5, 0.6, 1.0, 0.0, 0.3, -0.3, 0.2, 0.4, 0.0,
    0.2, 0.5, 0.1, 0.6, 0.3, 0.0, 0.7, 0.4, 0.6, 0.2, 0.5, 0.3,
    0.5, 0.2, 0.4, 0.1, 0.6, 0.3, 0.7, 0.5, 0.8, 0.4, 0.7, 0.2,
    0.4, 0.3, 0.2, 0.7, 0.4, 0.9, 0.6, 0.8, 0.3, 0.7, 0.9, 0.4,
    0.9, 0.5, 0.8, 0.3, 1.2, 0.7, 1.0, 0.4, 0.9, 0.5, 0.3, 0.8,
    0.7, 1.0, 0.6, 1.1, 0.9, 0.4, 0.6, 0.1, 0.3, 0.0, 0.2, -0.2,
    0.0, 0.2, -0.1, 0.1, -0.3, 0.2, 0.0, 0.1, 0.2, -0.2, 0.0, 0.2,
    0.1, 0.5, 0.3, 0.4, 0.2, 0.5, 0.1, 0.3, 0.2, 0.0, 0.6, 0.3,
    0.3, 0.6, 0.4, 0.3, 0.1, 0.6, 0.2, 0.4, 0.2, 0.5, 0.3, 0.1,
    0.4, 0.3, 0.1, 0.2, 0.0, 0.4, 0.2, 0.3, 0.1, 0.4, 0.1, 0.3,
    0.0, 0.3, 0.4, -0.1, 0.3, 0.2, 0.4, 0.0, 0.6, 0.3, 0.1, 0.4,
    0.2, 0.5, 0.3, 0.1, 0.6, 0.4, 0.3, 0.6, 0.3, 0.4, 0.6, 0.2,
    0.5, 0.2, 0.4, 0.6, 0.3, 0.1, 0.5, 0.3, 0.5, 0.2, 0.4, 0.3,
    0.2, 0.5, 0.3, 0.5, 0.2, 0.4, 0.3, 0.0, 0.2, 0.1, 0.3, 0.2,
    0.3, 0.1, 0.0, 0.2, -0.1, 0.3, 0.5, 0.2, None, 0.8, None, 0.6,
    None, 0.9, None, 0.6, None, 1.0, 0.6, 0.9, 0.7, 0.6, 0.9, 0.7,
    0.9, 0.6, 0.8, 0.5, 0.9, 0.7, 1.0, 0.6, 0.7, 0.9, 0.6, 0.9,
    0.7, 0.6, 0.4, 0.5, 0.3, 0.7, 0.5, 0.9, 0.7, 0.6, 0.5, 0.9,
    0.8, 0.5, 0.7, 0.9, 0.6, 0.7, 0.2, 0.4, 0.5, 0.2, 0.3, 0.5,
    0.4, 0.7, 0.6, 0.9, 0.8, 0.6, 0.9, 0.7, 0.6, 0.8, 0.9, 0.6,
    0.9, 0.7, 0.8, 0.6, 1.0, 0.8, 0.7, 0.6, 0.9, 0.7, 0.8, 0.6,
    0.8, 0.5, 0.7, 0.6, 0.8, 0.5, 0.6, 0.9, 0.7, 0.9, 0.8, 0.5,
    0.7, 0.9, 0.8, 0.9, 0.6, 0.8, 0.6, 0.5, 0.7, 0.4, 0.3, 0.6,
    0.6, 0.5, 0.6, 0.7, 0.3, 0.5, 0.3, 0.1, 0.4, 0.5, 0.2, 0.3,
    0.5, 0.2, 0.4, 0.3, 0.6, 0.3, 0.4, 0.6, 0.5, 0.6, 0.3, 0.7,
    0.5, 0.7, 0.4, 0.6, 0.9, 0.5, 1.2, 1.0, 1.1, 0.9, 1.3, 0.8,
    0.9, 0.7, 1.0, 1.4, 1.7, 1.9, 2.1, 1.9, 2.2, 2.0, 1.9,
]
MLS_LA_START = ym(2004, 10)
MLS_LA = [
    -0.25, -0.15, -0.05,
    0.0, 0.1, 0.05, 0.15, 0.0, -0.73, 0.1, 0.05, 0.0, -0.1, 0.05, -0.15,
    0.0, -0.2, 0.1, 0.4, -0.05, 0.25, -0.48, 0.0, -0.1, 0.05, -0.15, 0.1,
    -0.1, 0.05, -0.2, 0.1, 0.0, -0.1, 0.25, -0.45, 0.0, -0.05, 0.1, -0.1,
    0.0, 0.1, -0.15, 0.65, -0.6, 0.0, 0.05, -0.1, 0.1, -0.05, 0.0, 0.05,
    -0.1, 0.05, -0.3, 0.1, 0.0, -0.05, 0.1, 0.25, -0.1, 0.05, 0.0, -0.15,
    0.0, 0.1, -0.1, 0.05, -0.05, 0.1, -0.2, 0.0, -0.4, -0.1, 0.05, -0.2,
    -0.1, 0.0, -0.55, -0.2, 0.05, -0.1, 0.1, 0.0, 0.15, -0.05, 0.1, 0.05,
    0.15, 0.3, 0.0, 0.2, 0.1, 0.25, 0.05, 0.3, 0.1, -0.3, 0.2, 0.05,
    0.2, 0.1, 0.3, 0.0, 1.25, 0.15, 0.35, 0.1, 0.2, -0.1, -0.3, 0.2,
    0.1, 0.3, 0.0, 0.2, 0.6, -0.35, 0.15, 0.3, 0.05, 0.2, -0.1, 0.3,
    0.1, 0.0, -0.2, -0.55, -0.1, 0.05, 0.15, 0.9, 0.0, 0.1, -0.05, 0.15,
    0.0, 0.2, 0.1, 0.2, 0.9, 0.05, 0.15, 0.0, 0.2, 0.1, 0.05, 0.15,
    0.1, 0.2, 0.0, 0.35, 0.15, 0.05, 0.2, 0.1, 0.0, 0.15, -0.35, 0.05,
    0.1, 0.2, 0.0, -0.3, 0.15, 0.05, 0.4, 0.65, 0.3, 0.5, 0.45, 0.2,
    0.3, 0.55, 0.2, 0.4, 0.05, 0.3, 0.1, 0.95, -0.4, 0.1, 0.0, 0.2,
    0.15, 0.25, 0.05, 0.2, 0.1, 0.15, 0.0, 0.1, 0.55, 0.05, -0.05, 0.1,
    0.0, 0.2, 0.4, 0.1, 0.25, 0.05, 0.15, 0.0, 0.1, 0.2, 0.05, 0.1,
    0.15, 0.05, 0.2, 0.1, 0.25, 0.0, 0.15, -0.45, 0.35, 0.5, 0.4, 0.6,
    0.5, 0.7, 0.55, 0.75, 0.6, 0.9, 1.35, 1.7, 1.5, 1.3, 1.6,
]
MLS_LA_2 = [
    -0.2, -0.1, 0.0,
    0.05, -0.05, 0.1, 0.0, 0.1, -0.1, 0.0, 0.1, -0.05, 0.0, -0.1, 0.0,
    -0.1, 0.05, -0.15, 0.0, 0.1, -0.1, 0.0, -0.2, 0.05, -0.15, 0.0, -0.05,
    0.05, -0.15, 0.0, -0.05, 0.1, 0.0, -0.1, 0.05, -0.2, 0.1, -0.05, 0.0,
    -0.1, 0.0, 0.1, -0.05, 0.05, -0.2, 0.0, 0.05, -0.1, 0.05, -0.15, 0.0,
    0.05, -0.1, 0.0, -0.05, 0.1, 0.0, -0.15, 0.05, 0.0, -0.1, 0.1, 0.0,
    -0.05, 0.0, 0.05, -0.15, 0.0, -0.1, 0.05, -0.25, -0.1, 0.0, -0.15, -0.05,
    -0.2, 0.05, -0.1, 0.0, -0.15, 0.05, -0.05, 0.1, 0.0, 0.05, -0.05, 0.15,
    0.05, 0.15, 0.25, 0.0, 0.2, 0.1, 0.3, 0.0, 0.15, 0.25, -0.05, 0.15,
    0.1, 0.25, 0.0, 0.2, 0.1, 0.3, 0.0, 0.25, -0.05, 0.15, 0.1, 0.0,
    0.25, 0.0, 0.2, 0.1, 0.3, 0.15, -0.1, 0.2, 0.1, 0.0, 0.25, 0.05,
    0.0, 0.15, 0.05, -0.1, 0.1, -0.05, 0.05, 0.2, 0.1, -0.1, 0.15, 0.0,
    0.15, 0.05, 0.25, 0.0, 0.15, 0.1, 0.0, 0.2, -0.05, 0.15, 0.2, 0.0,
    0.2, 0.05, 0.15, 0.1, 0.25, 0.0, 0.1, 0.2, 0.05, -0.1, 0.1, 0.2,
    0.0, 0.1, 0.2, 0.05, -0.05, 0.2, 0.3, 0.2, 0.5, 0.35, 0.25, 0.4,
    0.45, 0.2, 0.35, 0.15, 0.3, 0.0, 0.25, 0.1, 0.2, -0.1, 0.15, 0.1,
    0.05, 0.2, 0.15, 0.0, 0.25, 0.05, 0.15, 0.2, 0.0, 0.15, 0.1, 0.0,
    0.15, 0.05, 0.2, 0.25, 0.0, 0.15, 0.1, 0.2, 0.05, 0.15, 0.25, 0.0,
    0.1, 0.2, 0.0, 0.25, 0.1, 0.2, 0.3, 0.4, 0.25, 0.55, 0.35, 0.5,
    0.65, 0.45, 0.8, 0.6, 0.7, 0.55, 1.1, 1.5, 1.4, 1.75, 1.55,
]
WVMS_MEAN_LA = 0.38

# ---------------------------------------------------------------------------
# Axes, scales and layout constants
# ---------------------------------------------------------------------------
X_DOMAIN = [1991.53, 2024.47]
LEFT_DOMAIN = [-2, 3]
RIGHT_DOMAIN = [-1, 4]
YEAR_LABELS = [1995, 2000, 2005, 2010, 2015, 2020]
LEFT_LABELS = [-2, -1, 0, 1, 2, 3]
RIGHT_LABELS = [-1, 0, 1, 2, 3, 4]
GRID_LEVELS = [-1.5, -1, -0.5, 0, 0.5, 1, 1.5, 2, 2.5]
COMB_MINOR = [round(-2 + 0.1 * k, 1) for k in range(51)]
COMB_MAJOR = LEFT_LABELS
BORDER_YEARS = list(range(1992, 2025))
BORDER_MAJOR = YEAR_LABELS

W, H = 1120, 265
FONT = "Liberation Sans"
GREEN = "#1fa31f"
BLUE = "#1010e8"
BLUE_AXIS = "#2e2ed8"
BLUE_LINE = "#4a4aff"
RED = "#ff1a1a"
RED_AXIS = "#cf3a3a"
CYAN = "#33d3e3"
SQUARE = 28
DOT = 18


def series(*segments):
    """segments: (start, values, offset_in_months)"""
    rows = []
    for start, values, offset in segments:
        for i, v in enumerate(values):
            if v is not None:
                rows.append({"t": start + (i + offset) / 12, "v": v})
    return pd.DataFrame(rows)


def one_row():
    return pd.DataFrame({"a": [0]})


xs = alt.Scale(domain=X_DOMAIN, nice=False, zero=False)
ys = alt.Scale(domain=LEFT_DOMAIN, nice=False, zero=False)
rs = alt.Scale(domain=RIGHT_DOMAIN, nice=False, zero=False)

x_axis = alt.Axis(
    orient="bottom", values=YEAR_LABELS, labelExpr="'' + datum.value",
    title=None, domain=False, ticks=False, grid=False,
    labelFont=FONT, labelFontSize=22, labelFontWeight="bold",
    labelColor="black", labelPadding=14,
)
left_axis = alt.Axis(
    orient="left", values=LEFT_LABELS, labelExpr="'' + datum.value",
    title="H\u2082O(ppmv)", titleFont=FONT, titleFontSize=23,
    titleFontWeight="bold", titleColor="black", titlePadding=11,
    domain=True, domainColor=BLUE_AXIS, domainWidth=2.5,
    ticks=False, grid=False, labelFlush=True,
    labelFont=FONT, labelFontSize=23, labelFontWeight="bold",
    labelColor="#1f1fe0", labelPadding=8,
)
right_axis = alt.Axis(
    orient="right", values=RIGHT_LABELS, labelExpr="'' + datum.value",
    title=None, domain=True, domainColor=RED_AXIS, domainWidth=2.5,
    ticks=False, grid=False, labelFlush=True,
    labelFont=FONT, labelFontSize=23, labelFontWeight="bold",
    labelColor=RED, labelPadding=7,
)

X = alt.X("t:Q", scale=xs, axis=x_axis)
Y = alt.Y("v:Q", scale=ys, axis=left_axis)


def label(text, x, y, color, size=23):
    return alt.Chart(one_row()).mark_text(
        align="left", baseline="middle", font=FONT, fontSize=size,
        fontWeight="bold", color=color,
    ).encode(x=alt.value(x), y=alt.value(y), text=alt.value(text))


def panel(title, site, haloe, wvms, mls, mean, box, title_xy, label_y,
          wvms5=None):
    levels = lambda vals: pd.DataFrame({"v": vals})

    grid = alt.Chart(levels(GRID_LEVELS)).mark_rule(
        color="#8a8a8a", strokeWidth=1.7, strokeDash=[1.7, 7.3]
    ).encode(y=Y, x=alt.value(16), x2=alt.value(W - 12))

    lcomb = alt.Chart(levels(COMB_MINOR)).mark_rule(
        color=BLUE_AXIS, strokeWidth=1
    ).encode(y=Y, x=alt.value(0), x2=alt.value(12))
    lcomb_major = alt.Chart(levels(COMB_MAJOR)).mark_rule(
        color=BLUE_AXIS, strokeWidth=2
    ).encode(y=Y, x=alt.value(0), x2=alt.value(20))
    rcomb = alt.Chart(levels(COMB_MINOR)).mark_rule(
        color=RED_AXIS, strokeWidth=1
    ).encode(y=Y, x=alt.value(W - 10), x2=alt.value(W))
    rcomb_major = alt.Chart(levels(COMB_MAJOR)).mark_rule(
        color=RED_AXIS, strokeWidth=2
    ).encode(y=Y, x=alt.value(W - 17), x2=alt.value(W))

    top = alt.Chart(one_row()).mark_rule(color="#444444", strokeWidth=1.5).encode(
        x=alt.value(0), x2=alt.value(W), y=alt.value(0))
    bottom = alt.Chart(one_row()).mark_rule(color="#444444", strokeWidth=1.5).encode(
        x=alt.value(0), x2=alt.value(W), y=alt.value(H))
    years = pd.DataFrame({"t": BORDER_YEARS})
    majors = pd.DataFrame({"t": BORDER_MAJOR})
    top_ticks = alt.Chart(years).mark_rule(color="#444444", strokeWidth=1.2).encode(
        x=X, y=alt.value(0), y2=alt.value(5))
    bot_ticks = alt.Chart(years).mark_rule(color="#444444", strokeWidth=1.2).encode(
        x=X, y=alt.value(H - 5), y2=alt.value(H))
    top_major = alt.Chart(majors).mark_rule(color="#444444", strokeWidth=1.4).encode(
        x=X, y=alt.value(0), y2=alt.value(9))
    bot_major = alt.Chart(majors).mark_rule(color="#444444", strokeWidth=1.4).encode(
        x=X, y=alt.value(H - 9), y2=alt.value(H))

    zero_line = alt.Chart(levels([-1])).mark_rule(color=RED, strokeWidth=3).encode(
        y=Y, x=alt.value(0), x2=alt.value(W))
    mean_line = alt.Chart(levels([mean])).mark_rule(color=BLUE_LINE, strokeWidth=1.8).encode(
        y=Y, x=alt.value(0), x2=alt.value(W))

    haloe_pts = alt.Chart(haloe).mark_square(
        size=SQUARE, color=GREEN, opacity=1, clip=True).encode(x=X, y=Y)
    wvms_pts = alt.Chart(wvms).mark_square(
        size=SQUARE, color=BLUE, opacity=1, clip=True).encode(x=X, y=Y)
    left_layers = [grid, lcomb, lcomb_major, rcomb, rcomb_major,
                   top, bottom, top_ticks, bot_ticks, top_major, bot_major,
                   zero_line, mean_line, haloe_pts, wvms_pts]
    if wvms5 is not None:
        left_layers.append(
            alt.Chart(wvms5).mark_square(
                size=SQUARE, color=CYAN, opacity=1, clip=True).encode(x=X, y=Y))
    left_group = alt.layer(*left_layers)

    mls_pts = alt.Chart(mls).mark_circle(size=DOT, color=RED, opacity=1, clip=True).encode(
        x=X, y=alt.Y("v:Q", scale=rs, axis=right_axis))

    texts = [
        label("HALOE(adj.)", 50, label_y, GREEN),
        label("WVMS", 357, label_y, BLUE),
        label("MLS", 527, label_y, RED),
        label(site, 799, label_y - 11, "black"),
    ]
    if wvms5 is not None:
        texts.append(label("WVMS5", 1005, label_y, CYAN))
    bx0, bx1, by0, by1 = box
    title_box = alt.Chart(one_row()).mark_rect(color="white").encode(
        x=alt.value(bx0), x2=alt.value(bx1), y=alt.value(by0), y2=alt.value(by1))
    title_text = alt.Chart(one_row()).mark_text(
        align="center", baseline="middle", font="Lato", fontSize=42,
        color="#262626",
    ).encode(x=alt.value(title_xy[0]), y=alt.value(title_xy[1]), text=alt.value(title))
    overlay = alt.layer(*texts, title_box, title_text)

    return alt.layer(left_group, mls_pts, overlay).resolve_scale(
        y="independent").properties(width=W, height=H)


p1 = panel("54km 34.4\u00b0N", "Table Mountain",
           series((HALOE_TM_START, HALOE_TM, 0.25), (HALOE_TM_START, HALOE_TM_2, 0.75)),
           series((WVMS_TM_A_START, WVMS_TM_A, 0.25), (WVMS_TM_A_START, WVMS_TM_A_2, 0.75),
                  (WVMS_TM_B_START, WVMS_TM_B, 0.25), (WVMS_TM_B_START, WVMS_TM_B_2, 0.75),
                  (WVMS_TM_C_START, WVMS_TM_C, 0.25), (WVMS_TM_C_START, WVMS_TM_C_2, 0.75)),
           series((MLS_TM_START, MLS_TM, 0.5)), WVMS_MEAN_TM,
           box=(475, 761, -57, 18), title_xy=(621, -29), label_y=44)
p2 = panel("54km 19.5\u00b0N", "Mauna Loa",
           series((HALOE_ML_START, HALOE_ML, 0.25), (HALOE_ML_START, HALOE_ML_2, 0.75)),
           series((WVMS_ML_START, WVMS_ML, 0.25), (WVMS_ML_START, WVMS_ML_2, 0.75)),
           series((MLS_ML_START, MLS_ML, 0.5)), WVMS_MEAN_ML,
           box=(477, 762, -43, 42), title_xy=(622, -8), label_y=45,
           wvms5=series((WVMS5_ML_A_START, WVMS5_ML_A, 0.25),
                        (WVMS5_ML_A_START, WVMS5_ML_A_2, 0.75),
                        (WVMS5_ML_B_START, WVMS5_ML_B, 0.25),
                        (WVMS5_ML_B_START, WVMS5_ML_B_2, 0.75)))
p3 = panel("54km 45.0\u00b0S", "Lauder",
           series((HALOE_LA_START, HALOE_LA, 0.25), (HALOE_LA_START, HALOE_LA_2, 0.75)),
           series((WVMS_LA_START, WVMS_LA, 0.25), (WVMS_LA_START, WVMS_LA_2, 0.75)),
           series((MLS_LA_START, MLS_LA, 0.25), (MLS_LA_START, MLS_LA_2, 0.75)),
           WVMS_MEAN_LA,
           box=(492, 768, -40, 47), title_xy=(633, -5), label_y=46)

chart = alt.vconcat(p1, p2, p3, spacing=88, bounds="flush").properties(
    padding={"left": 17, "top": 0, "right": 0, "bottom": 0},
    background="white",
).configure_view(stroke=None)

chart.save("out.html", embed_options={"renderer": "svg", "actions": False})
